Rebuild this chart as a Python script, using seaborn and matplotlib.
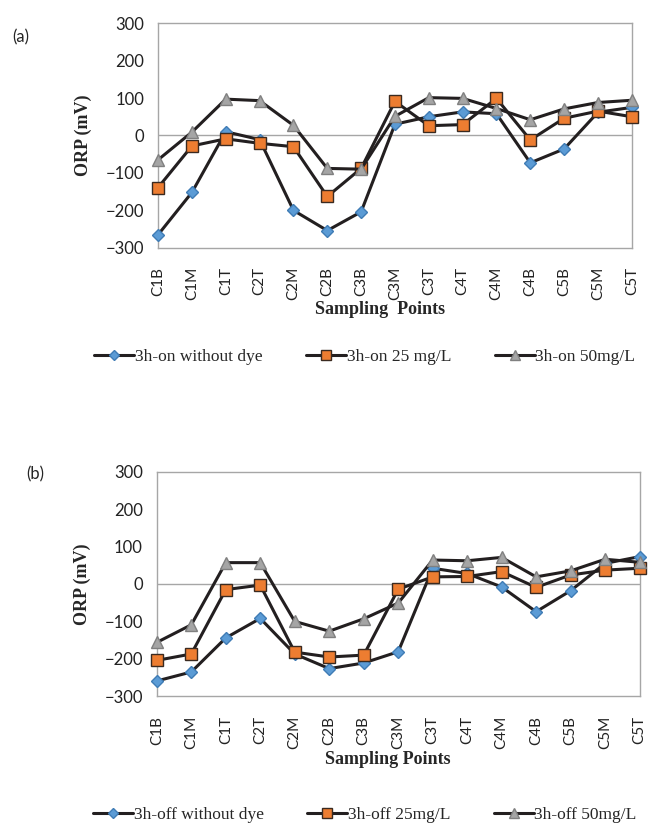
import numpy as np
import pandas as pd
import matplotlib
matplotlib.use("Agg")
import matplotlib.pyplot as plt
import seaborn as sns
from matplotlib.lines import Line2D

points = ["C1B", "C1M", "C1T", "C2T", "C2M", "C2B", "C3B", "C3M",
          "C3T", "C4T", "C4M", "C4B", "C5B", "C5M", "C5T"]

# (a) 3h-on
on_no_dye = [-265, -152, 10, -11, -200, -254, -204, 30, 50, 63, 58, -73, -36, 62, 75]
on_25 = [-139, -28, -9, -21, -30, -163, -88, 91, 26, 29, 99, -12, 46, 65, 50]
on_50 = [-65, 9, 97, 93, 27, -88, -90, 51, 101, 99, 72, 42, 71, 88, 94]

# (b) 3h-off
off_no_dye = [-259, -235, -144, -92, -187, -226, -211, -181, 42, 28, -8, -74, -18, 55, 73]
off_25 = [-204, -187, -15, -3, -182, -195, -190, -14, 19, 20, 33, -9, 24, 37, 42]
off_50 = [-156, -109, 57, 57, -100, -126, -93, -51, 64, 62, 71, 19, 35, 66, 58]

labels_on = ["3h-on without dye", "3h-on 25 mg/L", "3h-on 50mg/L"]
labels_off = ["3h-off without dye", "3h-off 25mg/L", "3h-off 50mg/L"]

sns.set_style("white")
plt.rcParams["font.family"] = ["Lato", "DejaVu Sans"]

styles = [
    dict(marker="D", color="#5B9BD5", ms=6, mec="#3F7CB5"),
    dict(marker="s", color="#ED7D31", ms=9, mec="#3a2a20"),
    dict(marker="^", color="#A5A5A5", ms=9, mec="#808080"),
]
line_col = "#231f20"
serif = ["Liberation Serif", "DejaVu Serif"]


def draw_panel(ax, series, labels, legend_y):
    x = np.arange(len(points))
    for vals, lab, st in zip(series, labels, styles):
        df = pd.DataFrame({"x": x, "y": vals})
        sns.lineplot(data=df, x="x", y="y", ax=ax, color=line_col, lw=2.2,
                     marker=st["marker"], markersize=st["ms"],
                     markerfacecolor=st["color"], markeredgecolor=st["mec"],
                     markeredgewidth=1.0, label=lab, zorder=3, clip_on=False)
    ax.axhline(0, color="#a6a6a6", lw=1, zorder=1)
    ax.set_xlim(0, len(points) - 1)
    ax.set_ylim(-300, 300)
    ax.set_yticks(range(-300, 301, 100))
    ax.set_xticks(x)
    ax.set_xticklabels(points, rotation=90, fontsize=11, color="#222222")
    ax.tick_params(axis="x", length=0, pad=14)
    ax.tick_params(axis="y", length=0, pad=10, labelsize=12, labelcolor="#222222")
    for s in ax.spines.values():
        s.set_color("#a6a6a6")
        s.set_linewidth(1)
    ax.set_ylabel("ORP (mV)", fontsize=13, fontweight="bold", family=serif, labelpad=10)
    ax.set_xlabel("")
    ax.legend_.remove()
    handles = [Line2D([], [], color=line_col, lw=2.2, marker=st["marker"],
                      markersize=st["ms"] * 0.85, markerfacecolor=st["color"],
                      markeredgecolor=st["mec"]) for st in styles]
    fig.legend(handles, labels, loc="center", bbox_to_anchor=(0.563, legend_y),
               ncol=3, frameon=False, prop={"family": serif, "size": 12.5},
               handlelength=2.3, handletextpad=0.05, columnspacing=2.5)


fig = plt.figure(figsize=(6.48, 8.26), dpi=100)
ax1 = fig.add_axes([0.244, 0.700, 0.731, 0.272])
ax2 = fig.add_axes([0.242, 0.157, 0.745, 0.272])

draw_panel(ax1, [on_no_dye, on_25, on_50], labels_on, 1 - 357 / 826)
draw_panel(ax2, [off_no_dye, off_25, off_50], labels_off, 1 - 815 / 826)

fig.text(380 / 648, 1 - 310 / 826, "Sampling  Points", ha="center", va="center",
         fontsize=13, fontweight="bold", family=serif)
fig.text(388 / 648, 1 - 759 / 826, "Sampling Points", ha="center", va="center",
         fontsize=13, fontweight="bold", family=serif)
fig.text(12 / 648, 1 - 37 / 826, "(a)", ha="left", va="center", fontsize=12)
fig.text(26 / 648, 1 - 474 / 826, "(b)", ha="left", va="center", fontsize=12)

fig.savefig("out.png", dpi=100)
